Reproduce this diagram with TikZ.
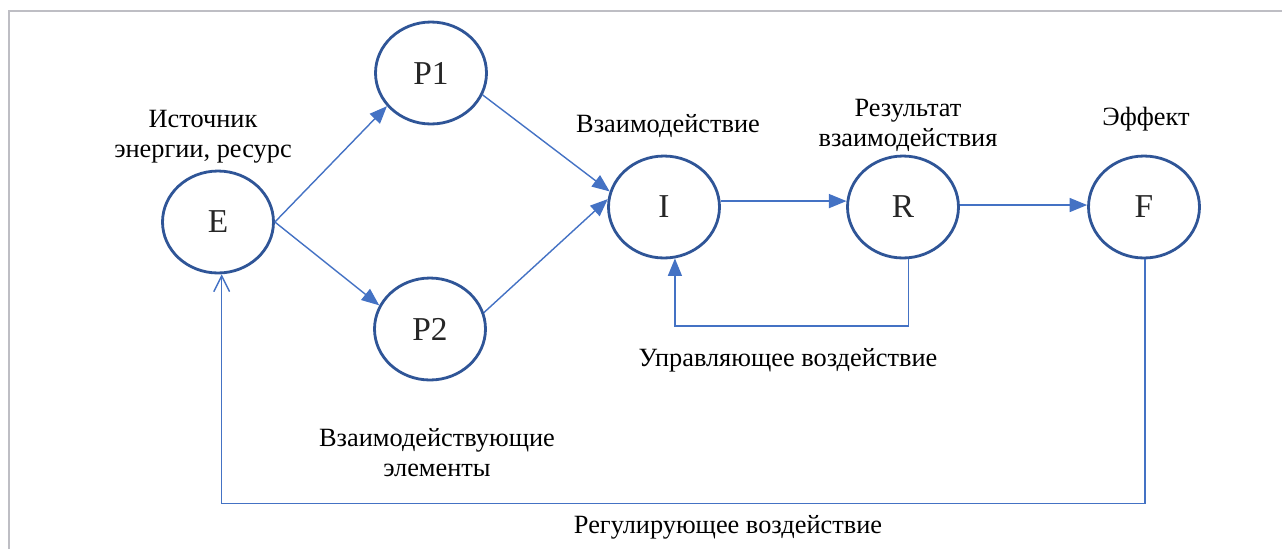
\documentclass[tikz,border=0pt]{standalone}
\usepackage{fontspec}
\setmainfont{Liberation Serif}
\usetikzlibrary{shapes.geometric,arrows.meta}

\definecolor{ringblue}{RGB}{47,85,151}
\definecolor{lineblue}{RGB}{68,114,196}
\definecolor{framegray}{RGB}{190,190,196}

\begin{document}
\begin{tikzpicture}[x=0.02cm,y=-0.02cm,
 main node/.style={ellipse,draw=ringblue,line width=1.6pt,
   minimum width=2.22cm,minimum height=2.04cm,inner sep=0pt,
   text=black!85,font=\fontsize{19}{22}\selectfont},
 link/.style={color=lineblue,line width=0.8pt,-{Triangle[length=10pt,width=8pt]}},
 label text/.style={align=center,font=\fontsize{15}{17}\selectfont}]

  \useasboundingbox (0,0) rectangle (1282,549);
  \draw[framegray,line width=1.2pt] (9,549) -- (9,11) -- (1282,11);

  \node[main node] (E) at (218,222) {E};
  \node[main node] (P1) at (431,73) {P1};
  \node[main node] (P2) at (430,329) {P2};
  \node[main node] (I) at (664,207) {I};
  \node[main node] (R) at (903,207) {R};
  \node[main node] (F) at (1144,207) {F};

  \node[label text] (src) at (203,137) {Источник\\энергии, ресурс};
  \node[label text] (act) at (668,126) {Взаимодействие};
  \node[label text] (res) at (908,125) {Результат\\взаимодействия};
  \node[label text] (eff) at (1146,119) {Эффект};
  \node[label text] (ctl) at (788,360) {Управляющее воздействие};
  \node[label text] (elm) at (437,453) {Взаимодействующие\\элементы};
  \node[label text] (reg) at (728,527) {Регулирующее воздействие};

  \path[link]
     (E.east) edge (P1.217)
              edge (P2.155)
     (P1.337) edge (I.164)
     (P2.17) edge (I.172)
     (I.6) edge (R.174)
     (R.2) edge (F.178);

  % feedback loops
  \draw[link] (R.-84) -- ++(0,67) -| (I.-78);
  \draw[color=lineblue,line width=0.8pt,-{Straight Barb[length=9pt,width=9pt]}]
     (F.-89) -- ++(0,244) -| (E.-86);
\end{tikzpicture}
\end{document}
